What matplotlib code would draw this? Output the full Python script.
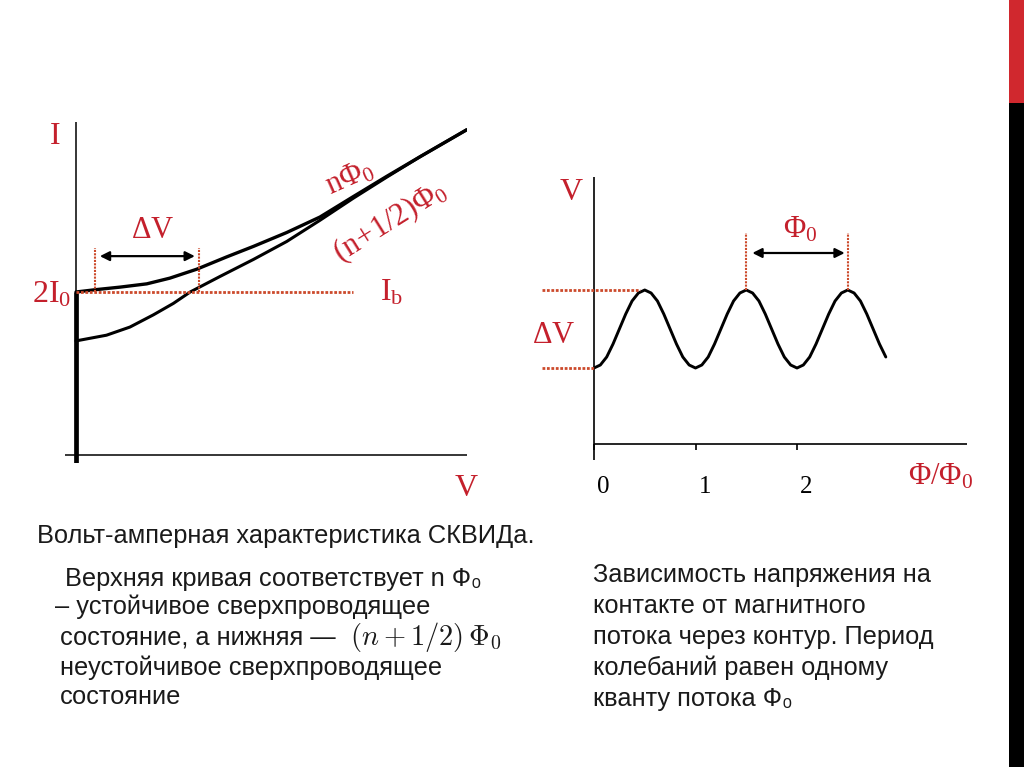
import matplotlib
matplotlib.use("Agg")
import matplotlib.pyplot as plt

plt.rcParams["mathtext.rm"] = "Liberation Serif"
plt.rcParams["mathtext.it"] = "Liberation Serif:italic"
plt.rcParams["mathtext.bf"] = "Liberation Serif:bold"

# ---------------- data ----------------
# Left panel: I-V characteristic (V in arbitrary units, I with 2I0 = 2)
iv_upper_v = [0.0, 0.53, 1.13, 1.81, 2.40, 3.09, 3.85, 4.54, 5.39, 6.24, 7.09, 7.95, 8.80, 9.99]
iv_upper_i = [2.00, 2.03, 2.06, 2.10, 2.17, 2.28, 2.43, 2.56, 2.73, 2.92, 3.17, 3.42, 3.66, 3.99]
iv_lower_v = [0.0, 0.78, 1.38, 1.98, 2.49, 2.92, 3.68, 4.54, 5.39, 6.24, 7.09, 7.95, 8.80, 9.99]
iv_lower_i = [1.40, 1.47, 1.57, 1.72, 1.86, 2.00, 2.19, 2.40, 2.62, 2.88, 3.15, 3.41, 3.66, 3.99]
ib_level = 2.0
dv_left = [0.49, 3.15]

# Right panel: V(Phi/Phi0)
phi = [i / 16 for i in range(47)]
volt = [0.76, 0.79, 0.87, 1.00, 1.15, 1.30, 1.43, 1.51, 1.54, 1.51, 1.43, 1.30, 1.15, 1.00, 0.87, 0.79,
        0.76, 0.79, 0.87, 1.00, 1.15, 1.30, 1.43, 1.51, 1.54, 1.51, 1.43, 1.30, 1.15, 1.00, 0.87, 0.79,
        0.76, 0.79, 0.87, 1.00, 1.15, 1.30, 1.43, 1.51, 1.54, 1.51, 1.43, 1.30, 1.15, 1.00, 0.87]
v_max, v_min = 1.54, 0.76
phi_ticks = [0, 1, 2]
phi_tick_labels = ["0", "1", "2"]
peaks_marked = [1.5, 2.5]

RED = "#C4202C"
DOT = "#CC4A2C"
STRIP_RED = "#D0282E"

W, H = 1024, 767
fig = plt.figure(figsize=(W / 100, H / 100), dpi=100)
fig.patch.set_facecolor("white")

def fx(px):
    return px / W

def fy(py):
    return 1 - py / H

# right-edge decorative strip
fig.add_artist(plt.Rectangle((fx(1009), fy(103)), fx(15), 103 / H, transform=fig.transFigure,
                             color=STRIP_RED, lw=0))
fig.add_artist(plt.Rectangle((fx(1009), 0), fx(15), fy(103), transform=fig.transFigure,
                             color="black", lw=0))

# ---------------- left panel ----------------
lx0, lpx = 76, 39.1
ly0, lpy = 455, 81.5
xl_min, xl_max = (65 - lx0) / lpx, (467 - lx0) / lpx
yl_min, yl_max = (ly0 - 463) / lpy, (ly0 - 122) / lpy
axL = fig.add_axes([fx(65), fy(463), (467 - 65) / W, (463 - 122) / H])
axL.set_xlim(xl_min, xl_max)
axL.set_ylim(yl_min, yl_max)
axL.axis("off")

axL.plot([xl_min, xl_max], [0, 0], color="black", lw=1.1, solid_capstyle="butt")
axL.plot([0, 0], [yl_min, yl_max], color="black", lw=1.1, solid_capstyle="butt")
axL.plot([0, 0], [yl_min, ib_level], color="black", lw=3.4, solid_capstyle="butt")
axL.plot(iv_upper_v, iv_upper_i, color="black", lw=2.4, solid_capstyle="round",
         solid_joinstyle="round")
axL.plot(iv_lower_v, iv_lower_i, color="black", lw=2.2, solid_capstyle="round",
         solid_joinstyle="round")
axL.plot([0, 7.08], [ib_level, ib_level], color=DOT, lw=2.0, ls=(0, (1, 0.6)))
for xv in dv_left:
    axL.plot([xv, xv], [ib_level, 2.54], color=DOT, lw=1.5, ls=(0, (1, 0.6)))
axL.annotate("", xy=(0.61, 2.44), xytext=(3.04, 2.44),
             arrowprops=dict(arrowstyle="<|-|>", color="black", lw=1.6,
                             mutation_scale=14, shrinkA=0, shrinkB=0))

serif = dict(family="Liberation Serif", color=RED, math_fontfamily="custom")
axL.text(-0.54, 3.82, "I", fontsize=23, ha="center", va="baseline", **serif)
axL.text(-0.11, 1.87, r"$\mathrm{2I_0}$", fontsize=23, ha="right", va="baseline", **serif)
axL.text(7.77, 1.90, r"$\mathrm{I_b}$", fontsize=23, ha="left", va="baseline", **serif)
axL.text(9.97, -0.50, "V", fontsize=23, ha="center", va="baseline", **serif)
axL.text(1.97, 2.66, r"$\mathrm{\Delta V}$", fontsize=22, ha="center", va="baseline", **serif)
axL.text(7.01, 3.40, r"$\mathrm{n\Phi_0}$", fontsize=22, ha="center", va="center",
         rotation=24, rotation_mode="anchor", **serif)
axL.text(8.03, 2.86, r"$\mathrm{(n\!+\!1/2)\Phi_0}$", fontsize=22, ha="center", va="center",
         rotation=32, rotation_mode="anchor", **serif)

# ---------------- right panel ----------------
rx0, rpx = 594, 101.5
ry0, rpy = 444, 100.0
xr_min, xr_max = (540 - rx0) / rpx, (967 - rx0) / rpx
yr_min, yr_max = (ry0 - 460) / rpy, (ry0 - 177) / rpy
axR = fig.add_axes([fx(540), fy(460), (967 - 540) / W, (460 - 177) / H])
axR.set_xlim(xr_min, xr_max)
axR.set_ylim(yr_min, yr_max)
axR.axis("off")

axR.plot([0, xr_max], [0, 0], color="black", lw=1.2, solid_capstyle="butt")
axR.plot([0, 0], [yr_min, yr_max], color="black", lw=1.2, solid_capstyle="butt")
for t in phi_ticks:
    axR.plot([t, t], [-0.06, 0], color="black", lw=1.2, solid_capstyle="butt")
for t, lab in zip(phi_ticks, phi_tick_labels):
    axR.text(t + 0.09, -0.49, lab, fontsize=18, ha="center", va="baseline",
             family="Liberation Serif", color="black")
axR.plot(phi, volt, color="black", lw=2.1, solid_capstyle="round", solid_joinstyle="round")

axR.plot([xr_min + 0.02, 0.45], [v_max, v_max], color=DOT, lw=2.0, ls=(0, (1, 0.6)), clip_on=False)
axR.plot([xr_min + 0.02, 0], [v_min, v_min], color=DOT, lw=2.0, ls=(0, (1, 0.6)), clip_on=False)
for p in peaks_marked:
    axR.plot([p, p], [v_max, 2.11], color=DOT, lw=1.5, ls=(0, (1, 0.6)))
axR.annotate("", xy=(1.56, 1.91), xytext=(2.47, 1.91),
             arrowprops=dict(arrowstyle="<|-|>", color="black", lw=1.6,
                             mutation_scale=14, shrinkA=0, shrinkB=0))

axR.text(-0.22, 2.44, "V", fontsize=23, ha="center", va="baseline", **serif)
axR.text(-0.40, 1.01, r"$\mathrm{\Delta V}$", fontsize=22, ha="center", va="baseline", **serif)
axR.text(2.03, 2.07, r"$\mathrm{\Phi_0}$", fontsize=22, ha="center", va="baseline", **serif)
axR.text(3.41, -0.40, r"$\mathrm{\Phi/\Phi_0}$", fontsize=22, ha="center", va="baseline", **serif)

# ---------------- captions ----------------
sans = dict(family=["Liberation Sans", "DejaVu Sans"], color="#1a1a1a", fontsize=18.3,
            va="baseline", ha="left")
fig.text(fx(37), fy(543), "Вольт-амперная характеристика СКВИДа.", **sans)
fig.text(fx(65), fy(586), "Верхняя кривая соответствует n Ф\u2080", **sans)
fig.text(fx(55), fy(614), "– устойчивое сверхпроводящее", **sans)
fig.text(fx(60), fy(645), "состояние, а нижняя —", **sans)
fig.text(fx(350), fy(645), r"$(n+1/2)\,\Phi_0$", fontsize=20.5, color="#1a1a1a",
         math_fontfamily="cm", va="baseline", ha="left")
fig.text(fx(60), fy(675), "неустойчивое сверхпроводящее", **sans)
fig.text(fx(60), fy(704), "состояние", **sans)

right_lines = ["Зависимость напряжения на", "контакте от магнитного",
               "потока через контур. Период", "колебаний равен одному",
               "кванту потока Ф\u2080"]
for i, line in enumerate(right_lines):
    fig.text(fx(593), fy(582 + 31 * i), line, **sans)

fig.savefig("out.png", dpi=100)
